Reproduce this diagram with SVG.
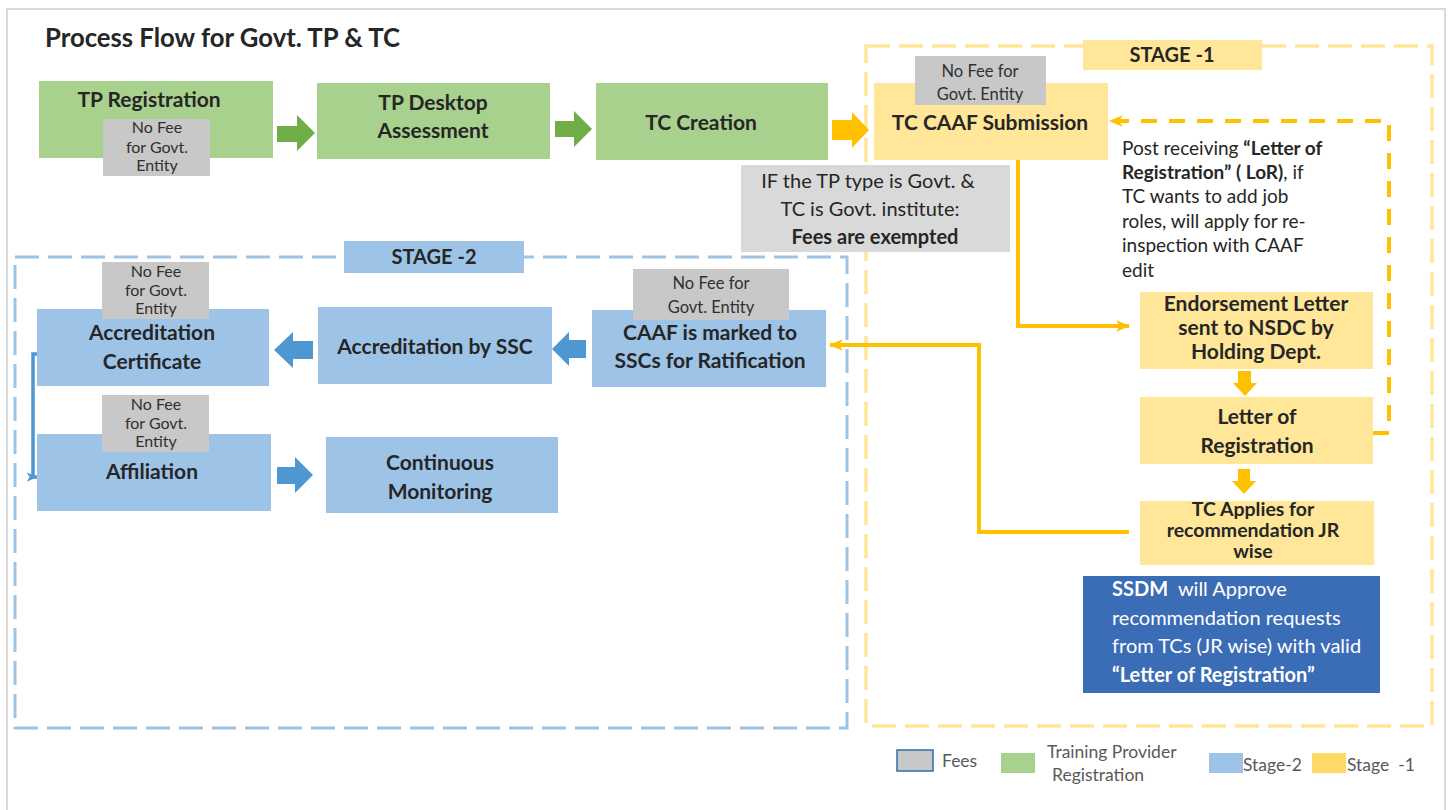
<svg xmlns="http://www.w3.org/2000/svg" width="1450" height="810" viewBox="0 0 1450 810">
<style>
text{font-family:Lato,"Liberation Sans",sans-serif;fill:#262626}
.b{font-weight:bold;font-size:21px;text-anchor:middle}
.fee{font-size:16px;text-anchor:middle;fill:#303030}
.g{fill:#A9D18E}.y{fill:#FFE699}.bl{fill:#9DC3E6}.gr{fill:#C8C8C8}
.lg{font-size:17.5px;fill:#595959}
.pn{font-size:19px}
.ss{font-size:20px;fill:#fff}
.nt{font-size:20px;text-anchor:middle}
</style>
<defs>
<marker id="ao" viewBox="0 0 12 10" refX="11" refY="5" markerWidth="3.5" markerHeight="3" orient="auto" markerUnits="strokeWidth">
<path d="M0,0 L12,5 L0,10 L3,5 Z" fill="#FFC000"/>
</marker>
<marker id="ab" viewBox="0 0 12 10" refX="11" refY="5" markerWidth="3.2" markerHeight="3.2" orient="auto" markerUnits="strokeWidth">
<path d="M0,0 L12,5 L0,10 L3,5 Z" fill="#4F97D1"/>
</marker>
</defs>
<rect x="0" y="0" width="1450" height="810" fill="#fff"/>
<rect x="7" y="9" width="1438" height="820" fill="none" stroke="#D9D9D9" stroke-width="2"/>
<text x="45" y="47" style="font-weight:bold;font-size:25.7px">Process Flow for Govt. TP &amp; TC</text>

<g id="stage1-frame">
<rect x="866" y="46" width="566" height="680" fill="none" stroke="#FFE699" stroke-width="3.5" stroke-dasharray="24 9"/>
</g>
<g id="stage2-frame">
<rect x="15" y="257" width="832" height="471" fill="none" stroke="#9DC3E6" stroke-width="3" stroke-dasharray="24 9"/>
</g>

<g id="connectors">
<polygon points="277,126 297,126 297,115 315,133 297,151 297,142 277,142" fill="#70AD47"/>
<polygon points="555,121 574,121 574,111 592,129 574,147 574,137 555,137" fill="#70AD47"/>
<polygon points="832,120 852,120 852,112 869,130 852,148 852,140 832,140" fill="#FFC000"/>
<polygon points="1238,371 1251,371 1251,383 1257,383 1245,396 1233,383 1238,383" fill="#FFC000"/>
<polygon points="1238,469 1250,469 1250,481 1256,481 1244,494 1232,481 1238,481" fill="#FFC000"/>
<polygon points="313,341 293,341 293,332 274,350 293,368 293,359 313,359" fill="#4F97D1"/>
<polygon points="586,340 569,340 569,332 552,349 569,366 569,358 586,358" fill="#4F97D1"/>
<polygon points="277,467 295,467 295,457 313,475 295,493 295,484 277,484" fill="#4F97D1"/>
<path d="M1018,160 V326 H1129" fill="none" stroke="#FFC000" stroke-width="4" marker-end="url(#ao)"/>
<path d="M1129,532 H979 V345 H830" fill="none" stroke="#FFC000" stroke-width="4" marker-end="url(#ao)"/>
<path d="M1373,433 H1389 V121 H1110" fill="none" stroke="#FFC000" stroke-width="4" stroke-dasharray="16 12" marker-end="url(#ao)"/>
<path d="M38,354 H33 V477 H37" fill="none" stroke="#4F97D1" stroke-width="3.5" marker-end="url(#ab)"/>
</g>

<g id="tp-registration">
<rect class="g" x="39" y="81" width="234" height="77"/>
<text class="b" x="149" y="107">TP Registration</text>
<rect class="gr" x="103" y="119" width="107" height="57"/>
<text class="fee" x="157" y="133">No Fee</text>
<text class="fee" x="157" y="153">for Govt.</text>
<text class="fee" x="157" y="171">Entity</text>
</g>
<g id="tp-desktop">
<rect class="g" x="317" y="83" width="233" height="76"/>
<text class="b" x="433" y="110">TP Desktop</text>
<text class="b" x="433" y="138">Assessment</text>
</g>
<g id="tc-creation">
<rect class="g" x="596" y="83" width="232" height="77"/>
<text class="b" x="701" y="130">TC Creation</text>
</g>
<g id="tc-caaf">
<rect class="y" x="874" y="83" width="234" height="77"/>
<text class="b" x="990" y="130">TC CAAF Submission</text>
<rect class="gr" x="915" y="56" width="131" height="49"/>
<text class="fee" x="980" y="77" style="font-size:16.5px">No Fee for</text>
<text class="fee" x="980" y="100" style="font-size:16.5px">Govt. Entity</text>
</g>
<g id="note">
<rect x="741" y="165" width="269" height="87" fill="#D9D9D9"/>
<text class="nt" x="868" y="188">IF the TP type is Govt. &amp;</text>
<text class="nt" x="870" y="216">TC is Govt. institute:</text>
<text class="nt" x="875" y="244" style="font-weight:bold">Fees are exempted</text>
</g>
<g id="stage1-label">
<rect class="y" x="1083" y="40" width="179" height="30"/>
<text class="b" x="1172" y="62" style="font-size:20px">STAGE -1</text>
</g>
<g id="post-note">
<text class="pn" x="1122" y="155">Post receiving <tspan font-weight="bold">“Letter of</tspan></text>
<text class="pn" x="1122" y="179"><tspan font-weight="bold">Registration” ( LoR)</tspan>, if</text>
<text class="pn" x="1122" y="203">TC wants to add job</text>
<text class="pn" x="1122" y="228">roles, will apply for re-</text>
<text class="pn" x="1122" y="252">inspection with CAAF</text>
<text class="pn" x="1122" y="277">edit</text>
</g>
<g id="endorsement">
<rect class="y" x="1140" y="292" width="233" height="77"/>
<text class="b" x="1256" y="311">Endorsement Letter</text>
<text class="b" x="1256" y="335">sent to NSDC by</text>
<text class="b" x="1256" y="359">Holding Dept.</text>
</g>
<g id="lor">
<rect class="y" x="1140" y="397" width="233" height="67"/>
<text class="b" x="1257" y="424">Letter of</text>
<text class="b" x="1257" y="453">Registration</text>
</g>
<g id="tc-applies">
<rect class="y" x="1140" y="501" width="234" height="64"/>
<text class="b" x="1253" y="516" style="font-size:19.5px">TC Applies for</text>
<text class="b" x="1253" y="537" style="font-size:19.5px">recommendation JR</text>
<text class="b" x="1253" y="558" style="font-size:19.5px">wise</text>
</g>
<g id="ssdm">
<rect x="1083" y="576" width="297" height="117" fill="#3B6CB6"/>
<text class="ss" x="1112" y="596" xml:space="preserve"><tspan font-weight="bold">SSDM</tspan>  will Approve</text>
<text class="ss" x="1112" y="625">recommendation requests</text>
<text class="ss" x="1112" y="653">from TCs (JR wise) with valid</text>
<text class="ss" x="1112" y="682" style="font-weight:bold">“Letter of Registration”</text>
</g>
<g id="stage2-label">
<rect class="bl" x="344" y="241" width="180" height="32"/>
<text class="b" x="434" y="264" style="font-size:20px">STAGE -2</text>
</g>
<g id="caaf-marked">
<rect class="bl" x="592" y="310" width="234" height="77"/>
<text class="b" x="710" y="340">CAAF is marked to</text>
<text class="b" x="710" y="368">SSCs for Ratification</text>
<rect class="gr" x="633" y="269" width="156" height="51"/>
<text class="fee" x="711" y="289" style="font-size:16.5px">No Fee for</text>
<text class="fee" x="711" y="313" style="font-size:16.5px">Govt. Entity</text>
</g>
<g id="accreditation-ssc">
<rect class="bl" x="318" y="307" width="234" height="77"/>
<text class="b" x="435" y="354">Accreditation by SSC</text>
</g>
<g id="accreditation-cert">
<rect class="bl" x="37" y="309" width="232" height="77"/>
<text class="b" x="152" y="340">Accreditation</text>
<text class="b" x="152" y="369">Certificate</text>
<rect class="gr" x="102" y="262" width="107" height="57"/>
<text class="fee" x="156" y="277">No Fee</text>
<text class="fee" x="156" y="296">for Govt.</text>
<text class="fee" x="156" y="314">Entity</text>
</g>
<g id="affiliation">
<rect class="bl" x="37" y="434" width="234" height="77"/>
<text class="b" x="152" y="479">Affiliation</text>
<rect class="gr" x="102" y="395" width="107" height="57"/>
<text class="fee" x="156" y="410">No Fee</text>
<text class="fee" x="156" y="429">for Govt.</text>
<text class="fee" x="156" y="447">Entity</text>
</g>
<g id="monitoring">
<rect class="bl" x="326" y="437" width="232" height="76"/>
<text class="b" x="440" y="470">Continuous</text>
<text class="b" x="440" y="499">Monitoring</text>
</g>

<g id="legend">
<rect x="897" y="750" width="36" height="21" fill="#C8C8C8" stroke="#2F6EA8" stroke-width="1.5"/>
<text class="lg" x="942" y="767">Fees</text>
<rect class="g" x="1001" y="753" width="34" height="20"/>
<text class="lg" x="1047" y="758">Training Provider</text>
<text class="lg" x="1052" y="781">Registration</text>
<rect class="bl" x="1209" y="753" width="34" height="20"/>
<text class="lg" x="1243" y="771">Stage-2</text>
<rect x="1312" y="753" width="34" height="20" fill="#FFD966"/>
<text class="lg" x="1347" y="771" xml:space="preserve">Stage  -1</text>
</g>
</svg>
